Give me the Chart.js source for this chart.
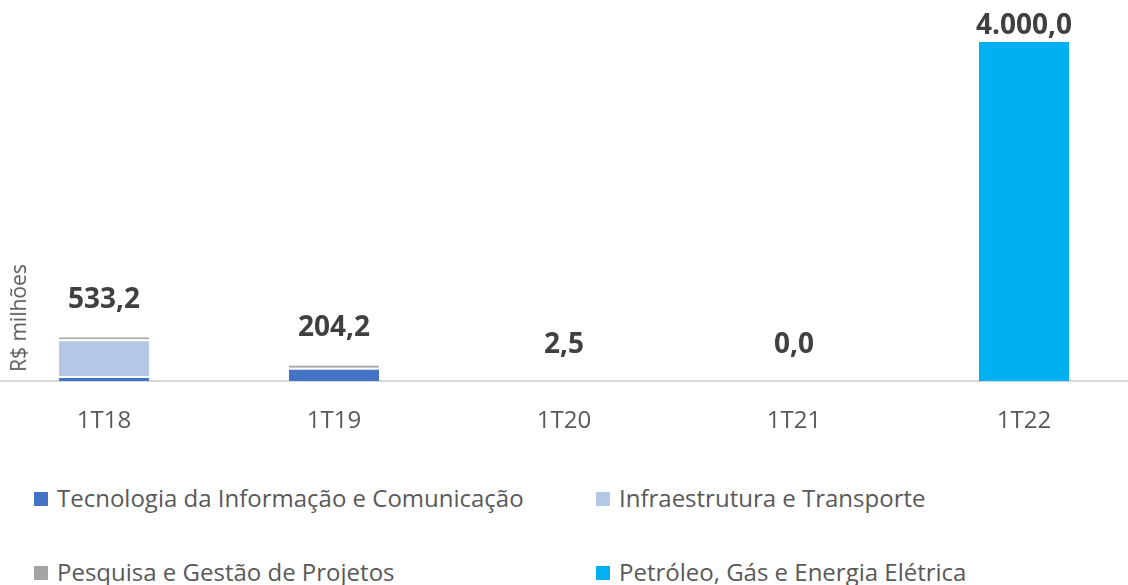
<!DOCTYPE html>
<html>
<head>
<meta charset="utf-8">
<script src="https://cdn.jsdelivr.net/npm/chart.js@4/dist/chart.umd.min.js"></script>
<style>
    html, body { margin: 0; padding: 0; background: #ffffff; }
    #page { position: relative; width: 1128px; height: 585px; overflow: hidden; font-family: "Open Sans", sans-serif; }
    #chartBox { position: absolute; left: -11px; top: 0; width: 1150px; height: 470px; }
    #yTitle { position: absolute; left: 18px; top: 318px; transform: translate(-50%, -50%) rotate(-90deg);
        white-space: nowrap; font-size: 21px; color: #595959; }
    .legItem { position: absolute; font-size: 24px; color: #595959; white-space: nowrap; line-height: 28px; }
    .legItem span { display: inline-block; width: 14px; height: 14px; margin-right: 9px; vertical-align: 1px; }
</style>
</head>
<body>
<div id="page">
    <div id="chartBox"><canvas id="chart"></canvas></div>
    <div id="yTitle">R$ milhões</div>
    <div id="legend"></div>
</div>
<script>
const categories = ["1T18", "1T19", "1T20", "1T21", "1T22"];
const seriesNames = [
    "Tecnologia da Informação e Comunicação",
    "Infraestrutura e Transporte",
    "Pesquisa e Gestão de Projetos",
    "Petróleo, Gás e Energia Elétrica"
];
const tecnologia = [60, 157, 0, 0, 0];
const infraestrutura = [432, 0, 0, 0, 0];
const pesquisa = [41.2, 47.2, 2.5, 0, 0];
const petroleo = [0, 0, 0, 0, 4000];
const seriesColors = ["#4472c4", "#b4c7e7", "#a5a5a5", "#00b0f0"];
const yMax = 4000;

// 4000 -> "4.000,0"
function formatBR(v) {
    let parts = v.toFixed(1).split(".");
    parts[0] = parts[0].replace(/\B(?=(\d{3})+(?!\d))/g, ".");
    return parts.join(",");
}

const totalLabels = {
    id: "totalLabels",
    afterDatasetsDraw(chart) {
        const ctx = chart.ctx;
        const xScale = chart.scales.x;
        const yScale = chart.scales.y;
        ctx.save();
        ctx.font = "bold 28px 'Open Sans', sans-serif";
        ctx.fillStyle = "#404040";
        ctx.textAlign = "center";
        ctx.textBaseline = "middle";
        for (let i = 0; i < categories.length; i++) {
            let total = 0;
            for (let ds of chart.data.datasets) total += ds.data[i];
            let x = xScale.getPixelForValue(i);
            let y = Math.max(26, yScale.getPixelForValue(total) - 36);
            ctx.fillText(formatBR(total), x, y);
        }
        ctx.restore();
    }
};

let allSeries = [tecnologia, infraestrutura, pesquisa, petroleo];
let datasets = [];
for (let i = 0; i < allSeries.length; i++) {
    datasets.push({
        label: seriesNames[i],
        data: allSeries[i],
        backgroundColor: seriesColors[i],
        borderColor: "#ffffff",
        borderWidth: {top: 2, right: 0, bottom: 0, left: 0},
        borderSkipped: false
    });
}

new Chart(document.getElementById("chart"), {
    type: "bar",
    data: { labels: categories, datasets: datasets },
    options: {
        responsive: true,
        maintainAspectRatio: false,
        animation: false,
        categoryPercentage: 1,
        barPercentage: 0.392,
        layout: { padding: { top: 40, left: 0, right: 0, bottom: 8 } },
        plugins: { legend: { display: false }, tooltip: { enabled: false } },
        scales: {
            x: {
                stacked: true,
                grid: { display: false, drawTicks: false },
                border: { display: true, color: "#d9d9d9", width: 2 },
                ticks: { padding: 26, color: "#595959", font: { family: "'Open Sans', sans-serif", size: 24 } }
            },
            y: {
                stacked: true,
                display: false,
                min: 0,
                max: yMax
            }
        }
    },
    plugins: [totalLabels]
});

// legend in two columns, like the original
const legendPos = [[34, 484], [596, 484], [34, 558], [596, 558]];
const legendOrder = [0, 1, 2, 3];
let legend = document.getElementById("legend");
for (let k = 0; k < legendOrder.length; k++) {
    let i = legendOrder[k];
    let item = document.createElement("div");
    item.className = "legItem";
    item.style.left = legendPos[k][0] + "px";
    item.style.top = legendPos[k][1] + "px";
    let box = document.createElement("span");
    box.style.background = seriesColors[i];
    item.appendChild(box);
    item.appendChild(document.createTextNode(seriesNames[i]));
    legend.appendChild(item);
}
</script>
</body>
</html>
